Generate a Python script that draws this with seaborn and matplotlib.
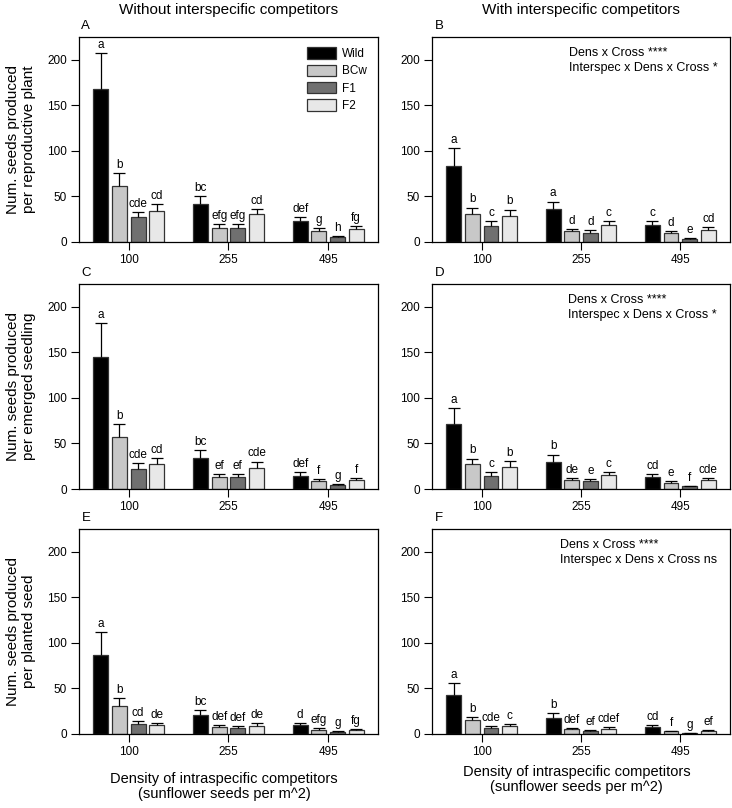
import numpy as np
import pandas as pd
import matplotlib
matplotlib.use('Agg')
import matplotlib.pyplot as plt
import seaborn as sns

densidades = ['100', '255', '495']
cruzamentos = ['Wild', 'BCw', 'F1', 'F2']
cores = {'Wild': '#000000', 'BCw': '#c8c8c8', 'F1': '#707070', 'F2': '#e8e8e8'}

# medias e erro (so a parte de cima), ordem: densidade -> cruzamento
a_media = [167.7, 61.7, 27.0, 34.0, 41.5, 15.8, 15.8, 30.5, 22.8, 12.0, 6.0, 14.3]
a_erro = [39.3, 14.3, 6.0, 8.0, 9.1, 3.7, 4.2, 5.5, 4.7, 3.0, 1.0, 3.7]
a_letras = ['a', 'b', 'cde', 'cd', 'bc', 'efg', 'efg', 'cd', 'def', 'g', 'h', 'fg']

b_media = [83.7, 30.8, 18.0, 29.0, 36.0, 11.7, 10.3, 18.7, 19.0, 9.5, 3.3, 13.2]
b_erro = [19.8, 7.0, 5.0, 6.6, 8.4, 3.0, 2.9, 4.3, 4.5, 2.5, 0.7, 3.3]
b_letras = ['a', 'b', 'c', 'b', 'a', 'd', 'd', 'c', 'c', 'd', 'e', 'cd']

c_media = [144.6, 56.9, 22.4, 27.2, 34.1, 13.2, 13.2, 23.5, 14.7, 8.4, 4.0, 9.5]
c_erro = [37.8, 14.7, 6.2, 6.9, 8.5, 3.7, 3.7, 6.6, 4.4, 2.6, 1.5, 3.0]
c_letras = ['a', 'b', 'cde', 'cd', 'bc', 'ef', 'ef', 'cde', 'def', 'f', 'g', 'f']

d_media = [70.8, 27.2, 14.7, 24.6, 30.1, 9.5, 8.4, 15.0, 13.2, 6.6, 2.9, 9.5]
d_erro = [18.4, 6.2, 4.4, 5.9, 7.7, 3.0, 2.6, 4.1, 3.7, 1.8, 0.8, 2.6]
d_letras = ['a', 'b', 'c', 'b', 'b', 'de', 'e', 'c', 'cd', 'e', 'f', 'cde']

e_media = [86.7, 30.3, 11.3, 9.5, 20.5, 7.7, 6.2, 9.1, 9.9, 4.8, 2.2, 4.0]
e_erro = [25.6, 8.8, 3.0, 2.9, 5.5, 2.5, 2.6, 2.6, 2.2, 1.4, 0.7, 1.1]
e_letras = ['a', 'b', 'cd', 'de', 'bc', 'def', 'def', 'de', 'd', 'efg', 'g', 'fg']

f_media = [43.3, 15.0, 6.6, 8.4, 18.0, 5.1, 3.3, 5.5, 7.7, 2.9, 1.1, 3.3]
f_erro = [12.8, 3.7, 1.8, 3.0, 5.5, 1.5, 1.1, 1.8, 2.6, 0.8, 0.4, 0.7]
f_letras = ['a', 'b', 'cde', 'c', 'b', 'def', 'ef', 'cdef', 'cd', 'f', 'g', 'ef']

sns.set_theme(style='ticks')
plt.rcParams['font.family'] = ['Liberation Sans', 'DejaVu Sans']
for k in ['text.color', 'axes.labelcolor', 'xtick.color', 'ytick.color']:
    plt.rcParams[k] = 'black'


def desenhar_painel(ax, media, erro, letras, letra_painel):
    df = pd.DataFrame({
        'densidade': np.repeat(densidades, len(cruzamentos)),
        'cruzamento': cruzamentos * len(densidades),
        'media': media,
    })
    sns.barplot(data=df, x='densidade', y='media', hue='cruzamento',
                order=densidades, hue_order=cruzamentos, palette=cores,
                width=0.75, gap=0.2, edgecolor='#333333', linewidth=0.9,
                errorbar=None, legend=False, ax=ax)

    xs, ys, es = [], [], []
    for i, cont in enumerate(ax.containers):
        for j, barra in enumerate(cont):
            idx = j * len(cruzamentos) + i
            x = barra.get_x() + barra.get_width() / 2
            xs.append(x)
            ys.append(barra.get_height())
            es.append(erro[idx])
            ax.annotate(letras[idx], (x, barra.get_height() + erro[idx]),
                        xytext=(0, 1.5), textcoords='offset points',
                        ha='center', va='bottom', fontsize=8.5)

    eb = ax.errorbar(xs, ys, yerr=[np.zeros(len(es)), es], fmt='none',
                     ecolor='black', elinewidth=0.9, capsize=4.5,
                     capthick=0.9, zorder=3)
    # esconder o cap de baixo (fica no topo da barra)
    for cap in eb[1]:
        if np.allclose(cap.get_ydata(), ys):
            cap.set_visible(False)

    ax.set_xlim(-0.5, 2.5)
    ax.set_ylim(0, 225)
    ax.set_yticks([0, 50, 100, 150, 200])
    ax.tick_params(length=5.5, width=0.8, labelsize=8.5, pad=3)
    for s in ax.spines.values():
        s.set_visible(True)
        s.set_color('black')
        s.set_linewidth(0.9)
    ax.set_xlabel('')
    ax.set_ylabel('')
    ax.text(0.008, 1.022, letra_painel, transform=ax.transAxes,
            ha='left', va='bottom', fontsize=9.5)


def texto_stats(ax, x, linha2):
    ax.text(x, 0.92, 'Dens x Cross ****', transform=ax.transAxes,
            ha='left', va='center', fontsize=9)
    ax.text(x, 0.85, linha2, transform=ax.transAxes,
            ha='left', va='center', fontsize=9)


fig = plt.figure(figsize=(7.32, 8.08), dpi=100)
W, H = 732, 808


def eixo(esq, dir_, topo, base):
    return fig.add_axes([esq / W, 1 - base / H, (dir_ - esq) / W, (base - topo) / H])


ax_a = eixo(79, 378, 37, 242)
ax_b = eixo(432, 730, 37, 242)
ax_c = eixo(79, 378, 284, 489)
ax_d = eixo(432, 730, 284, 489)
ax_e = eixo(79, 378, 529, 734)
ax_f = eixo(432, 730, 529, 734)

desenhar_painel(ax_a, a_media, a_erro, a_letras, 'A')
desenhar_painel(ax_b, b_media, b_erro, b_letras, 'B')
desenhar_painel(ax_c, c_media, c_erro, c_letras, 'C')
desenhar_painel(ax_d, d_media, d_erro, d_letras, 'D')
desenhar_painel(ax_e, e_media, e_erro, e_letras, 'E')
desenhar_painel(ax_f, f_media, f_erro, f_letras, 'F')

ax_a.legend(ax_a.containers, cruzamentos, loc='upper left',
            bbox_to_anchor=(0.762, 0.95), frameon=False, fontsize=8.5,
            handlelength=2.45, handleheight=1.1, handletextpad=0.55,
            labelspacing=0.4, borderpad=0, borderaxespad=0)

texto_stats(ax_b, 0.46, 'Interspec x Dens x Cross *')
texto_stats(ax_d, 0.455, 'Interspec x Dens x Cross *')
texto_stats(ax_f, 0.43, 'Interspec x Dens x Cross ns')

ylabels = {
    ax_a: 'Num. seeds produced\nper reproductive plant',
    ax_c: 'Num. seeds produced\nper emerged seedling',
    ax_e: 'Num. seeds produced\nper planted seed',
}
for ax, lab in ylabels.items():
    ax.set_ylabel(lab, fontsize=11, linespacing=1.15)
    ax.yaxis.set_label_coords(-0.145, 0.5)

xlab = 'Density of intraspecific competitors\n(sunflower seeds per m^2)'
ax_e.set_xlabel(xlab, fontsize=10.5, linespacing=1.1)
ax_e.xaxis.set_label_coords(0.485, -0.185)
ax_f.set_xlabel(xlab, fontsize=10.5, linespacing=1.1)
ax_f.xaxis.set_label_coords(0.485, -0.151)

fig.text(228.5 / W, 1 - 10 / H, 'Without interspecific competitors',
         ha='center', va='center', fontsize=11)
fig.text(581 / W, 1 - 10 / H, 'With interspecific competitors',
         ha='center', va='center', fontsize=11)

fig.savefig('out.png', dpi=100)
